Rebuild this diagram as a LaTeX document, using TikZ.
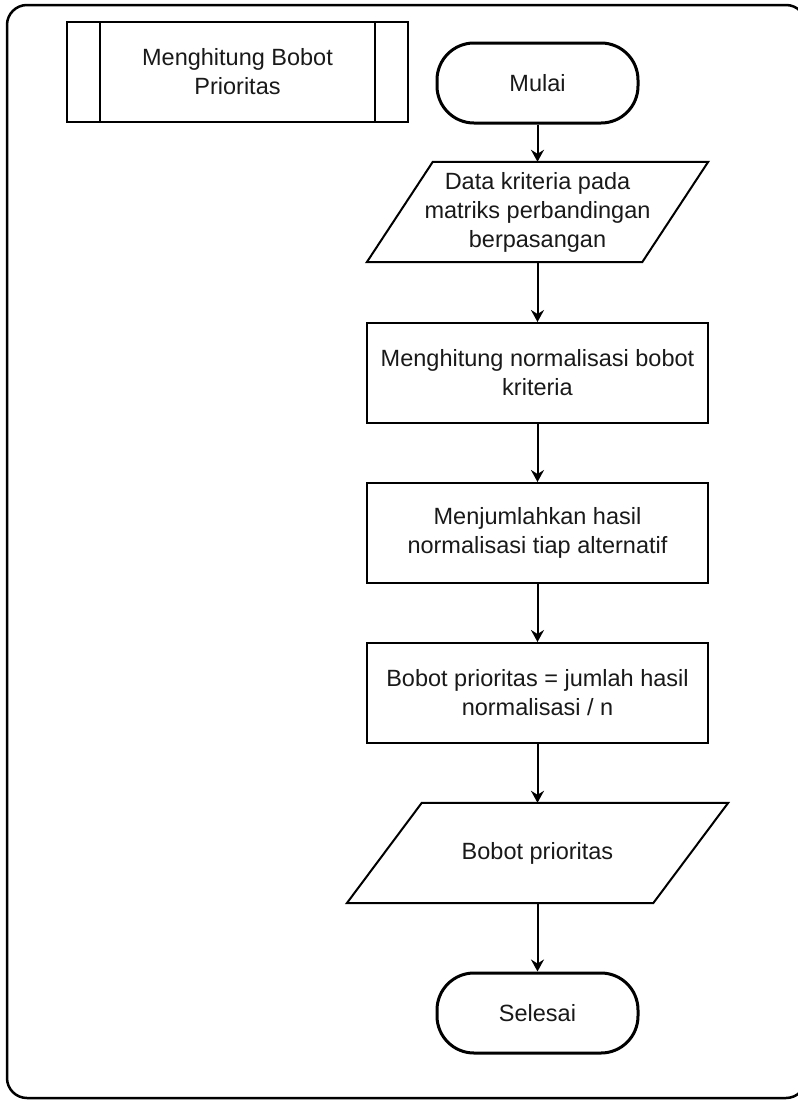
\documentclass[tikz,border=0pt]{standalone}
\usepackage{fontspec}
\setmainfont{Liberation Sans}
\usetikzlibrary{arrows.meta}
\begin{document}
\begin{tikzpicture}[x=1pt,y=-1pt,
  every node/.style={font=\fontsize{23.5}{29}\selectfont, text=black!90, align=center},
  procbox/.style={draw, line width=2pt, minimum width=341pt, minimum height=100pt, inner sep=0pt},
  termbox/.style={draw, line width=3pt, rounded corners=37pt, minimum width=201pt, minimum height=80pt, inner sep=0pt},
  iobox/.style={minimum width=#1, minimum height=100pt, inner sep=0pt},
  flow/.style={line width=2pt, -{Stealth[length=12pt,width=13pt,inset=4pt]}}
]
\useasboundingbox (0,0) rectangle (798,1101);

% outer frame (its right side runs past the page edge)
\draw[line width=2.5pt, rounded corners=20pt] (7,5) rectangle (806,1098);

% predefined process header
\node[procbox] (pp) at (237.5,72) {Menghitung Bobot\\Prioritas};
\draw[line width=2pt] ([xshift=34pt]pp.north west) -- ([xshift=34pt]pp.south west);
\draw[line width=2pt] ([xshift=-34pt]pp.north east) -- ([xshift=-34pt]pp.south east);

% flow nodes
\node[termbox] (start) at (537.5,83) {Mulai};
\node[iobox=341pt] (in) at (537.5,212) {Data kriteria pada\\matriks perbandingan\\berpasangan};
\draw[line width=2pt] ([xshift=66pt]in.north west) -- (in.north east)
  -- ([xshift=-66pt]in.south east) -- (in.south west) -- cycle;
\node[procbox] (norm) at (537.5,373) {Menghitung normalisasi bobot\\kriteria};
\node[procbox] (sum) at (537.5,533) {Menjumlahkan hasil\\normalisasi tiap alternatif};
\node[procbox] (prio) at (537.5,693) {Bobot prioritas = jumlah hasil\\normalisasi / n};
\node[iobox=381pt] (out) at (537.5,853) {Bobot prioritas};
\draw[line width=2pt] ([xshift=75pt]out.north west) -- (out.north east)
  -- ([xshift=-75pt]out.south east) -- (out.south west) -- cycle;
\node[termbox] (stop) at (537.5,1013) {Selesai};

% connectors
\draw[flow] (start) -- (in);
\draw[flow] (in) -- (norm);
\draw[flow] (norm) -- (sum);
\draw[flow] (sum) -- (prio);
\draw[flow] (prio) -- (out);
\draw[flow] (out) -- (stop);
\end{tikzpicture}
\end{document}
